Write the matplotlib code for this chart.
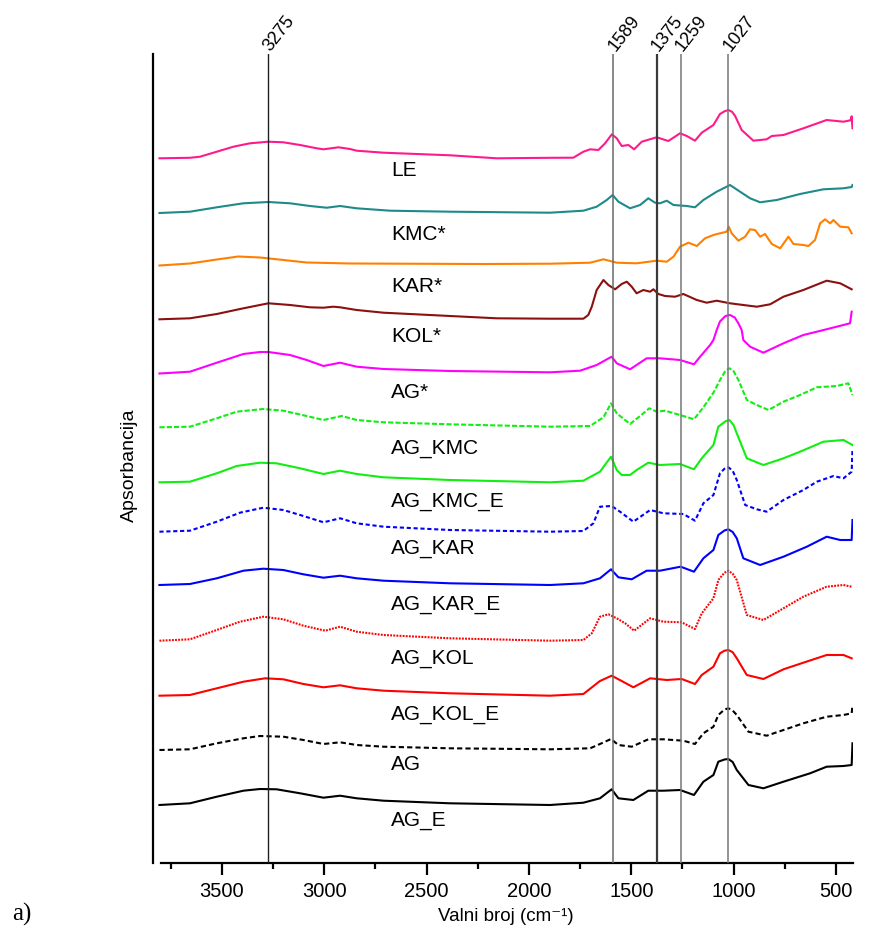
import matplotlib
matplotlib.use("Agg")
import matplotlib.pyplot as plt
import numpy as np

# ---------------- data (wavenumber cm-1, absorbance a.u. above own baseline) -------------
names = ["LE", "KMC*", "KAR*", "KOL*", "AG*", "AG_KMC", "AG_KMC_E",
         "AG_KAR", "AG_KAR_E", "AG_KOL", "AG_KOL_E", "AG", "AG_E"]

offsets = [7.044, 6.497, 5.972, 5.434, 4.892, 4.354, 3.804,
           3.310, 2.777, 2.220, 1.670, 1.127, 0.577]

wn_LE = [3804, 3655, 3606, 3524, 3443, 3362, 3272, 3199, 3117, 3036, 3003, 2930, 2873, 2841, 2710, 2385, 2157,
         1897, 1783, 1734, 1701, 1661, 1628, 1595, 1571, 1547, 1514, 1486, 1449, 1376, 1319, 1262, 1229, 1189,
         1156, 1099, 1067, 1045, 1026, 1008, 993, 961, 904, 839, 814, 757, 660, 546, 464, 430, 424, 420]
ab_LE = [0, 0.005, 0.016, 0.066, 0.116, 0.15, 0.166, 0.16, 0.133, 0.10, 0.09, 0.11, 0.093, 0.076, 0.056, 0.03, 0.0,
         0.005, 0.006, 0.066, 0.09, 0.083, 0.15, 0.24, 0.20, 0.123, 0.133, 0.09, 0.166, 0.21, 0.173, 0.25, 0.223, 0.176,
         0.256, 0.333, 0.443, 0.47, 0.483, 0.465, 0.423, 0.283, 0.176, 0.19, 0.223, 0.233, 0.30, 0.383, 0.366, 0.38,
         0.42, 0.30]

wn_KMC = [3804, 3655, 3524, 3394, 3272, 3166, 3069, 2987, 2922, 2841, 2678, 2385, 1897, 1734, 1669, 1620, 1591,
          1563, 1506, 1457, 1417, 1384, 1360, 1327, 1294, 1229, 1189, 1148, 1083, 1018, 969, 920, 871, 790, 676,
          562, 464, 424, 420]
ab_KMC = [0, 0.013, 0.057, 0.097, 0.11, 0.097, 0.07, 0.053, 0.07, 0.047, 0.023, 0.013, 0.003, 0.023, 0.063, 0.13,
          0.18, 0.113, 0.047, 0.08, 0.147, 0.103, 0.097, 0.123, 0.08, 0.07, 0.057, 0.13, 0.213, 0.28, 0.213, 0.147,
          0.107, 0.13, 0.19, 0.237, 0.247, 0.26, 0.28]

wn_KAR = [3804, 3655, 3524, 3419, 3313, 3199, 3085, 2873, 2222, 1897, 1701, 1636, 1571, 1474, 1376, 1327, 1294,
          1262, 1221, 1180, 1140, 1099, 1067, 1034, 1024, 1010, 977, 944, 920, 896, 871, 847, 814, 773, 733, 708,
          660, 635, 603, 578, 554, 529, 513, 480, 440, 424]
ab_KAR = [0, 0.02, 0.06, 0.09, 0.08, 0.055, 0.03, 0.02, 0.015, 0.018, 0.028, 0.062, 0.028, 0.022, 0.048, 0.038,
          0.088, 0.188, 0.228, 0.195, 0.272, 0.305, 0.322, 0.338, 0.388, 0.322, 0.248, 0.288, 0.362, 0.355, 0.288,
          0.315, 0.215, 0.172, 0.288, 0.215, 0.205, 0.195, 0.255, 0.422, 0.462, 0.422, 0.455, 0.388, 0.382, 0.322]

wn_KOL = [3804, 3655, 3524, 3394, 3272, 3166, 3069, 3003, 2955, 2922, 2841, 2710, 2385, 2157, 1897, 1734, 1710,
          1693, 1669, 1636, 1612, 1579, 1547, 1522, 1498, 1474, 1441, 1408, 1392, 1368, 1335, 1286, 1246, 1180,
          1132, 1083, 1018, 953, 887, 822, 757, 660, 546, 480, 424]
ab_KOL = [0, 0.01, 0.053, 0.11, 0.16, 0.143, 0.12, 0.116, 0.126, 0.12, 0.093, 0.066, 0.033, 0.01, 0.006, 0.006,
          0.043, 0.126, 0.293, 0.393, 0.343, 0.30, 0.353, 0.376, 0.326, 0.26, 0.293, 0.276, 0.30, 0.253, 0.233,
          0.226, 0.253, 0.193, 0.166, 0.186, 0.16, 0.143, 0.126, 0.15, 0.226, 0.293, 0.386, 0.36, 0.30]

wn_AGs = [3804, 3655, 3524, 3394, 3313, 3272, 3166, 3085, 3003, 2922, 2841, 2710, 2385, 1897, 1750, 1669, 1596,
          1571, 1506, 1425, 1360, 1262, 1194, 1164, 1115, 1099, 1083, 1067, 1040, 1018, 995, 977, 961, 953, 920,
          855, 757, 660, 594, 497, 432, 424]
ab_AGs = [0, 0.018, 0.108, 0.195, 0.215, 0.215, 0.185, 0.135, 0.075, 0.108, 0.068, 0.045, 0.025, 0.012, 0.028,
          0.085, 0.168, 0.102, 0.042, 0.152, 0.152, 0.135, 0.092, 0.168, 0.285, 0.335, 0.435, 0.52, 0.575, 0.585,
          0.56, 0.502, 0.435, 0.335, 0.268, 0.208, 0.302, 0.385, 0.418, 0.468, 0.502, 0.618]

wn_AG_KMC = [3804, 3655, 3524, 3427, 3297, 3199, 3085, 3003, 2914, 2841, 2710, 2385, 1897, 1701, 1636, 1599, 1571,
             1506, 1457, 1412, 1376, 1335, 1262, 1194, 1148, 1099, 1067, 1040, 1021, 1000, 977, 936, 887, 830, 757,
             676, 594, 497, 440, 420]
ab_AG_KMC = [0, 0.006, 0.09, 0.156, 0.183, 0.166, 0.113, 0.073, 0.113, 0.073, 0.05, 0.03, 0.006, 0.013, 0.10,
             0.24, 0.14, 0.033, 0.113, 0.19, 0.156, 0.166, 0.123, 0.08, 0.20, 0.346, 0.473, 0.565, 0.59, 0.56,
             0.473, 0.273, 0.223, 0.173, 0.256, 0.323, 0.40, 0.413, 0.44, 0.323]

wn_AG_KMC_E = [3804, 3655, 3524, 3427, 3313, 3232, 3117, 3003, 2922, 2841, 2710, 2385, 1897, 1734, 1653, 1599,
               1571, 1547, 1506, 1474, 1417, 1360, 1262, 1194, 1156, 1099, 1075, 1040, 1021, 1000, 985, 936, 855,
               757, 676, 562, 464, 420]
ab_AG_KMC_E = [0, 0.006, 0.09, 0.163, 0.196, 0.19, 0.14, 0.083, 0.116, 0.083, 0.05, 0.023, 0, 0.016, 0.106,
               0.256, 0.123, 0.073, 0.073, 0.123, 0.196, 0.173, 0.183, 0.13, 0.24, 0.373, 0.556, 0.61, 0.623, 0.57,
               0.49, 0.24, 0.173, 0.24, 0.306, 0.406, 0.423, 0.373]

wn_AG_KAR = [3804, 3655, 3524, 3411, 3297, 3199, 3117, 3003, 2922, 2841, 2710, 2385, 1897, 1734, 1685, 1653,
             1596, 1555, 1490, 1408, 1343, 1246, 1189, 1148, 1099, 1067, 1045, 1026, 1005, 985, 944, 887, 839, 757,
             660, 594, 513, 464, 424, 420]
ab_AG_KAR = [0, 0.01, 0.10, 0.19, 0.24, 0.217, 0.167, 0.094, 0.134, 0.084, 0.05, 0.017, 0, 0.007, 0.084, 0.25,
             0.257, 0.20, 0.10, 0.217, 0.184, 0.177, 0.11, 0.284, 0.367, 0.584, 0.63, 0.644, 0.61, 0.517, 0.267,
             0.224, 0.20, 0.317, 0.417, 0.50, 0.557, 0.534, 0.60, 0.82]

wn_AG_KAR_E = [3804, 3655, 3524, 3394, 3297, 3199, 3101, 3003, 2922, 2841, 2710, 2385, 1897, 1734, 1653, 1599,
               1563, 1498, 1425, 1360, 1259, 1194, 1148, 1099, 1075, 1045, 1026, 1005, 985, 953, 871, 757, 643,
               546, 480, 424, 420]
ab_AG_KAR_E = [0, 0.01, 0.067, 0.143, 0.163, 0.15, 0.107, 0.073, 0.093, 0.067, 0.043, 0.017, 0, 0.017, 0.067,
               0.157, 0.077, 0.057, 0.143, 0.143, 0.183, 0.133, 0.267, 0.35, 0.50, 0.545, 0.557, 0.53, 0.467,
               0.267, 0.20, 0.283, 0.383, 0.483, 0.45, 0.45, 0.65]

wn_AG_KOL = [3804, 3655, 3524, 3411, 3297, 3199, 3101, 2995, 2922, 2841, 2710, 2385, 1897, 1734, 1693, 1653,
             1612, 1571, 1530, 1486, 1408, 1343, 1254, 1189, 1156, 1099, 1075, 1045, 1026, 1005, 985, 936, 855,
             757, 660, 546, 464, 424]
ab_AG_KOL = [0, 0.014, 0.107, 0.19, 0.24, 0.214, 0.15, 0.10, 0.14, 0.09, 0.057, 0.024, 0, 0.007, 0.074, 0.24,
             0.264, 0.224, 0.174, 0.10, 0.224, 0.19, 0.184, 0.117, 0.274, 0.424, 0.607, 0.68, 0.70, 0.67, 0.607,
             0.257, 0.207, 0.324, 0.44, 0.54, 0.557, 0.54]

wn_AG_KOL_E = [3804, 3655, 3524, 3394, 3288, 3199, 3101, 3003, 2922, 2841, 2710, 2385, 1897, 1734, 1653, 1596,
               1547, 1490, 1408, 1327, 1254, 1189, 1156, 1099, 1067, 1045, 1026, 1005, 985, 936, 855, 757, 660,
               546, 464, 424]
ab_AG_KOL_E = [0, 0.007, 0.074, 0.14, 0.174, 0.164, 0.117, 0.084, 0.104, 0.074, 0.05, 0.024, 0, 0.017, 0.147,
               0.20, 0.147, 0.084, 0.174, 0.157, 0.167, 0.117, 0.207, 0.29, 0.424, 0.45, 0.457, 0.435, 0.374,
               0.207, 0.167, 0.264, 0.33, 0.407, 0.407, 0.374]

wn_AG = [3804, 3655, 3524, 3394, 3313, 3199, 3101, 3003, 2922, 2841, 2710, 2385, 1897, 1701, 1653, 1599, 1563,
         1498, 1417, 1343, 1246, 1189, 1148, 1099, 1075, 1045, 1026, 1005, 985, 928, 839, 757, 660, 546, 464,
         424, 420]
ab_AG = [0, 0.007, 0.067, 0.117, 0.14, 0.133, 0.10, 0.06, 0.077, 0.05, 0.033, 0.017, 0.007, 0.017, 0.06, 0.11,
         0.05, 0.033, 0.107, 0.107, 0.093, 0.06, 0.167, 0.233, 0.35, 0.405, 0.417, 0.395, 0.35, 0.183, 0.143,
         0.20, 0.267, 0.333, 0.35, 0.367, 0.45]

wn_AG_E = [3804, 3655, 3524, 3394, 3313, 3232, 3117, 3003, 2922, 2841, 2710, 2385, 1897, 1734, 1653, 1596, 1563,
           1490, 1417, 1343, 1262, 1194, 1148, 1099, 1075, 1045, 1026, 1005, 985, 928, 855, 757, 627, 546, 464,
           424, 420]
ab_AG_E = [0, 0.017, 0.083, 0.143, 0.16, 0.157, 0.117, 0.073, 0.093, 0.067, 0.043, 0.017, 0, 0.023, 0.067,
           0.157, 0.067, 0.05, 0.143, 0.143, 0.15, 0.10, 0.233, 0.30, 0.433, 0.455, 0.46, 0.43, 0.35, 0.20,
           0.167, 0.233, 0.317, 0.383, 0.39, 0.40, 0.617]

wavenumbers = [wn_LE, wn_KMC, wn_KAR, wn_KOL, wn_AGs, wn_AG_KMC, wn_AG_KMC_E,
               wn_AG_KAR, wn_AG_KAR_E, wn_AG_KOL, wn_AG_KOL_E, wn_AG, wn_AG_E]
absorb = [ab_LE, ab_KMC, ab_KAR, ab_KOL, ab_AGs, ab_AG_KMC, ab_AG_KMC_E,
          ab_AG_KAR, ab_AG_KAR_E, ab_AG_KOL, ab_AG_KOL_E, ab_AG, ab_AG_E]

marker_lines = [3275, 1589, 1375, 1259, 1027]
marker_labels = ["3275", "1589", "1375", "1259", "1027"]

x_major = [3500, 3000, 2500, 2000, 1500, 1000, 500]
x_minor = [3750, 3250, 2750, 2250, 1750, 1250, 750]

# ---------------- styling ----------------
colors = ["#ff1a8c", "#1f8a8a", "#ff8000", "#8b1010", "#ff00ff", "#11ee11", "#11ee11",
          "#0000ff", "#0000ff", "#ff0000", "#ff0000", "#000000", "#000000"]
styles = ["-", "-", "-", "-", "-", (0, (2.5, 1.0)), "-",
          (0, (2.0, 1.3)), "-", (0, (0.9, 0.6)), "-", (0, (2.5, 1.5)), "-"]
label_y_px = [170, 235, 286, 336, 393, 449, 502, 549, 605, 659, 714, 765, 820]
marker_colors = ["#202020", "#6a6a6a", "#3a3a3a", "#777777", "#777777"]
marker_lw = [1.0, 1.1, 1.6, 1.1, 1.1]

plt.rcParams['font.family'] = ['Liberation Sans', 'DejaVu Sans']

W, H = 880, 926
fig = plt.figure(figsize=(W / 100, H / 100), dpi=100)
fig.patch.set_facecolor("white")
ax_l, ax_r, ax_t, ax_b = 153.3, 853.3, 54.0, 862.7
ax = fig.add_axes([ax_l / W, 1 - ax_b / H, (ax_r - ax_l) / W, (ax_b - ax_t) / H])
ax.set_facecolor("white")

ax.set_xlim(3834, 416)
ax.set_ylim(0, (ax_b - ax_t) / 100.0)

for wn, ab, off, c, ls in zip(wavenumbers, absorb, offsets, colors, styles):
    ax.plot(wn, np.array(ab) + off, color=c, lw=1.5, linestyle=ls, zorder=2,
            solid_joinstyle='round')

for w, lab, c, lw in zip(marker_lines, marker_labels, marker_colors, marker_lw):
    ax.axvline(w, color=c, lw=lw, zorder=3)
    ax.annotate(lab, xy=(w, 1.0), xycoords=ax.get_xaxis_transform(),
                xytext=(1.5, 1.5), textcoords='offset points',
                rotation=52, rotation_mode='anchor', ha='left', va='baseline',
                fontsize=13, annotation_clip=False)

xt = ax.get_xaxis_transform()
for name, ypx in zip(names, label_y_px):
    ax.text(2673, (ax_b - ypx) / (ax_b - ax_t), name, transform=xt,
            ha='left', va='center', fontsize=15)

# spines / ticks
for s in ['top', 'right']:
    ax.spines[s].set_visible(False)
ax.spines['left'].set_linewidth(1.6)
ax.spines['bottom'].set_linewidth(1.6)
ax.spines['bottom'].set_bounds(3798, 416)
ax.set_yticks([])
ax.set_xticks(x_major)
ax.set_xticks(x_minor, minor=True)
ax.set_xticklabels([str(v) for v in x_major])
ax.tick_params(axis='x', which='major', direction='out', length=8.6, width=1.6,
               labelsize=14.5, pad=5.0)
ax.tick_params(axis='x', which='minor', direction='out', length=4.3, width=1.6)

ax.set_xlabel("Valni broj (cm\u207b\u00b9)", fontsize=13.5)
ax.xaxis.set_label_coords((506 - ax_l) / (ax_r - ax_l), -(925 - ax_b) / (ax_b - ax_t))
ax.xaxis.label.set_verticalalignment('bottom')
ax.set_ylabel("Apsorbancija", fontsize=14)
ax.yaxis.set_label_coords((137.5 - ax_l) / (ax_r - ax_l), (ax_b - 465) / (ax_b - ax_t))

fig.text(12 / W, 1 - 921 / H, "a)", family=['Liberation Serif', 'DejaVu Serif'],
         fontsize=18, ha='left', va='baseline')

fig.savefig("out.png", dpi=100)
